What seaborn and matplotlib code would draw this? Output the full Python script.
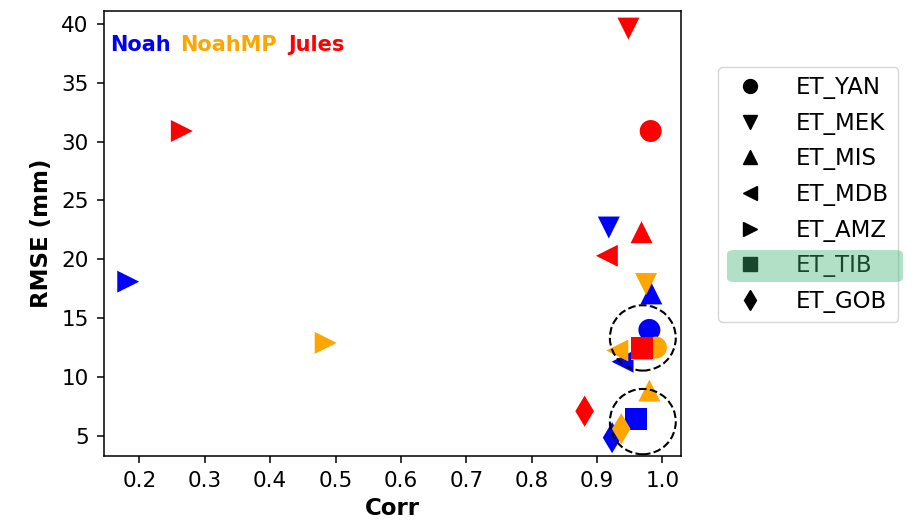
import numpy as np
import pandas as pd
import matplotlib
matplotlib.use("Agg")
import matplotlib.pyplot as plt
from matplotlib.lines import Line2D
from matplotlib.patches import Ellipse, FancyBboxPatch
import seaborn as sns

# --- data ---
basins = ["ET_YAN", "ET_MEK", "ET_MIS", "ET_MDB", "ET_AMZ", "ET_TIB", "ET_GOB"]
models = ["Noah", "NoahMP", "Jules"]

noah_corr = [0.980, 0.918, 0.983, 0.939, 0.183, 0.960, 0.923]
noah_rmse = [14.0, 22.7, 17.1, 11.3, 18.1, 6.4, 4.85]

noahmp_corr = [0.990, 0.975, 0.980, 0.931, 0.485, 0.968, 0.937]
noahmp_rmse = [12.5, 17.9, 8.85, 12.25, 12.9, 12.4, 5.6]

jules_corr = [0.982, 0.948, 0.968, 0.915, 0.265, 0.969, 0.881]
jules_rmse = [30.9, 39.6, 22.3, 20.3, 30.9, 12.5, 7.1]

model_colors = {"Noah": "blue", "NoahMP": "orange", "Jules": "red"}
basin_markers = {"ET_YAN": "o", "ET_MEK": "v", "ET_MIS": "^", "ET_MDB": "<",
                 "ET_AMZ": ">", "ET_TIB": "s", "ET_GOB": "d"}

df = pd.concat([
    pd.DataFrame({"model": m, "basin": basins, "corr": c, "rmse": r})
    for m, c, r in [("Noah", noah_corr, noah_rmse),
                    ("NoahMP", noahmp_corr, noahmp_rmse),
                    ("Jules", jules_corr, jules_rmse)]
], ignore_index=True)

fig = plt.figure(figsize=(9.15, 5.21), dpi=100)
ax = fig.add_axes([0.1137, 0.125, 0.631, 0.854])

sns.scatterplot(data=df, x="corr", y="rmse", hue="model", style="basin",
                palette=model_colors, markers=basin_markers, s=250,
                linewidth=0, legend=False, ax=ax)

# dashed circles round the two clusters
for yc in [13.32, 6.21]:
    ax.add_patch(Ellipse((0.970, yc), width=0.1008, height=5.55, fill=False,
                         ls="--", lw=1.5, color="black"))

ax.set_xlim(0.146, 1.029)
ax.set_ylim(3.3, 41.1)
ax.set_xticks(np.arange(0.2, 1.01, 0.1))
ax.set_yticks(range(5, 41, 5))
ax.tick_params(labelsize=15.5, length=5, width=1.1, pad=6)
for sp in ax.spines.values():
    sp.set_linewidth(1.1)
ax.set_xlabel("Corr", fontsize=16.5, fontweight="bold", labelpad=4)
ax.set_ylabel("RMSE (mm)", fontsize=16.5, fontweight="bold", labelpad=6)

# model names as coloured text
for name, xpos in zip(models, [0.011, 0.131, 0.319]):
    ax.text(xpos, 0.924, name, color=model_colors[name], fontsize=15,
            fontweight="bold", ha="left", va="center", transform=ax.transAxes)

handles = [Line2D([], [], marker=basin_markers[b], color="black", ls="none",
                  markersize=10) for b in basins]
fig.legend(handles, basins, loc="upper left", bbox_to_anchor=(0.7847, 0.8714),
           borderaxespad=0, fontsize=16.5, labelspacing=0.55, handletextpad=1.0)

# highlight for ET_TIB
fig.patches.append(FancyBboxPatch((0.7945, 0.4587), 0.1923, 0.0614,
                                  boxstyle="round,pad=0,rounding_size=0.008",
                                  transform=fig.transFigure, facecolor="mediumseagreen",
                                  edgecolor="none", alpha=0.4, zorder=10))

fig.savefig("out.png", dpi=100)
